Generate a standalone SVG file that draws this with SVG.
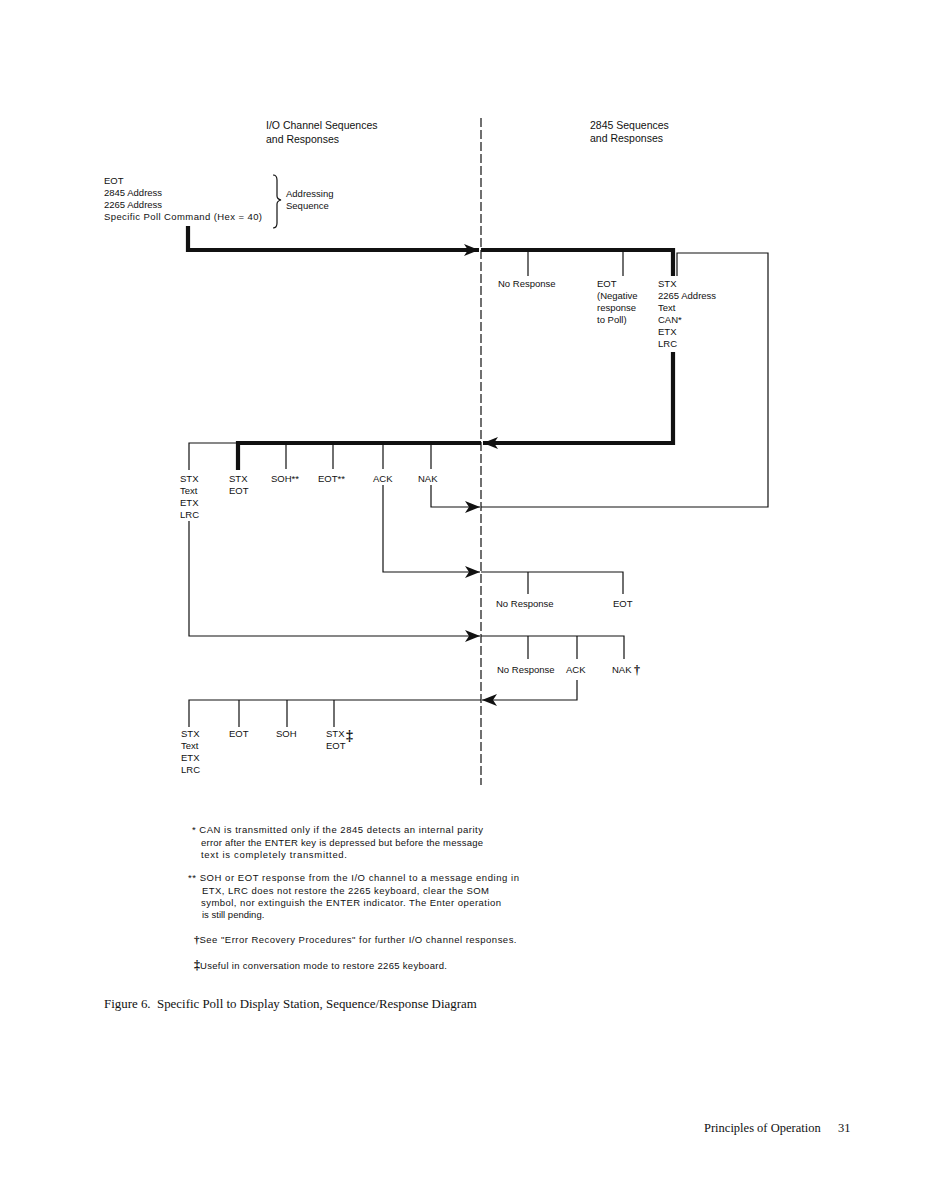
<svg xmlns="http://www.w3.org/2000/svg" width="934" height="1201" viewBox="0 0 934 1201">
<style>
text{font-family:"Liberation Sans","DejaVu Sans",sans-serif;fill:#111}
.lb{font-size:9.5px}
.hd{font-size:10.5px}
.fn{font-size:9.5px}
.sf{font-family:"Liberation Serif","DejaVu Serif",serif;font-size:12.5px}
.cap{font-size:12.9px}
.dg{font-family:"Liberation Serif","DejaVu Serif",serif;font-weight:bold}
.thin{fill:none;stroke:#111;stroke-width:1.2}
.thick{fill:none;stroke:#111;stroke-width:4.2}
.dash{fill:none;stroke:#111;stroke-width:1.2;stroke-dasharray:9 3}
</style>
<defs>
<marker id="arr" viewBox="-16 -7 17 14" refX="0" refY="0" markerWidth="17" markerHeight="14" markerUnits="userSpaceOnUse" orient="auto">
<path d="M-15,-6 L0,0 L-15,6 L-11,0 z" fill="#111"/>
</marker>
</defs>
<rect width="934" height="1201" fill="#fff"/>

<g id="headers">
<text class="hd" x="266" y="129">I/O Channel Sequences</text>
<text class="hd" x="266" y="143">and Responses</text>
<text class="hd" x="590" y="129">2845 Sequences</text>
<text class="hd" x="590" y="142">and Responses</text>
</g>

<g id="node-addressing">
<text class="lb" x="104" y="184">EOT</text>
<text class="lb" x="104" y="196">2845 Address</text>
<text class="lb" x="104" y="208">2265 Address</text>
<text class="lb" x="104" y="220" textLength="158" lengthAdjust="spacing">Specific Poll Command (Hex = 40)</text>
<path class="thin" d="M273,175 Q277,175 277,180 V196 Q277,199 281,200 Q277,201 277,204 V223 Q277,228 273,228"/>
<text class="lb" x="286" y="197">Addressing</text>
<text class="lb" x="286" y="209">Sequence</text>
</g>

<g id="node-noresp1"><text class="lb" x="498" y="287">No Response</text></g>
<g id="node-eot-neg">
<text class="lb" x="597" y="287">EOT</text>
<text class="lb" x="597" y="299">(Negative</text>
<text class="lb" x="597" y="311">response</text>
<text class="lb" x="597" y="323">to Poll)</text>
</g>
<g id="node-stx-msg">
<text class="lb" x="658" y="287">STX</text>
<text class="lb" x="658" y="299">2265 Address</text>
<text class="lb" x="658" y="311">Text</text>
<text class="lb" x="658" y="323">CAN*</text>
<text class="lb" x="658" y="335">ETX</text>
<text class="lb" x="658" y="347">LRC</text>
</g>

<g id="node-row2">
<text class="lb" x="180" y="482">STX</text>
<text class="lb" x="180" y="494">Text</text>
<text class="lb" x="180" y="506">ETX</text>
<text class="lb" x="180" y="518">LRC</text>
<text class="lb" x="229" y="482">STX</text>
<text class="lb" x="229" y="494">EOT</text>
<text class="lb" x="271" y="482">SOH**</text>
<text class="lb" x="318" y="482">EOT**</text>
<text class="lb" x="373" y="482">ACK</text>
<text class="lb" x="418" y="482">NAK</text>
</g>

<g id="node-row3">
<text class="lb" x="496" y="607">No Response</text>
<text class="lb" x="613" y="607">EOT</text>
</g>

<g id="node-row4">
<text class="lb" x="497" y="673">No Response</text>
<text class="lb" x="566" y="673">ACK</text>
<text class="lb" x="612" y="673">NAK</text>
<text class="dg" x="634" y="674" font-size="12">†</text>
</g>

<g id="node-row5">
<text class="lb" x="181" y="737">STX</text>
<text class="lb" x="181" y="749">Text</text>
<text class="lb" x="181" y="761">ETX</text>
<text class="lb" x="181" y="773">LRC</text>
<text class="lb" x="229" y="737">EOT</text>
<text class="lb" x="276" y="737">SOH</text>
<text class="lb" x="326" y="737">STX</text>
<text class="lb" x="326" y="749">EOT</text>
<text class="dg" x="346" y="740" font-size="14">‡</text>
</g>

<g id="connectors">
<path class="dash" d="M481,118 V785"/>
<path class="thick" d="M188,226 V250 H479" marker-end="url(#arr)"/>
<path class="thick" d="M481,250 H673 V276"/>
<path class="thin" d="M528,250 V276 M623,250 V276"/>
<path class="thin" d="M677,276 V253 H768 V507 H481"/>
<path class="thick" d="M673,352 V443 H483" marker-end="url(#arr)"/>
<path class="thick" d="M481,443 H238 V470"/>
<path class="thin" d="M238,443 H189 V470"/>
<path class="thin" d="M286,443 V469 M333,443 V469 M383,443 V469 M431,443 V469"/>
<path class="thin" d="M431,485 V507 H480" marker-end="url(#arr)"/>
<path class="thin" d="M383,485 V572 H480" marker-end="url(#arr)"/>
<path class="thin" d="M481,572 H623 V594 M528,572 V594"/>
<path class="thin" d="M189,521 V636 H480" marker-end="url(#arr)"/>
<path class="thin" d="M481,636 H624 V659 M528,636 V659 M577,636 V659"/>
<path class="thin" d="M577,680 V700 H482" marker-end="url(#arr)"/>
<path class="thin" d="M481,700 H189 V727 M239,700 V727 M287,700 V727 M334,700 V727"/>
</g>

<g id="footnotes">
<text class="fn" x="192" y="833" textLength="291" lengthAdjust="spacing">* CAN is transmitted only if the 2845 detects an internal parity</text>
<text class="fn" x="201" y="846" textLength="282" lengthAdjust="spacing">error after the ENTER key is depressed but before the message</text>
<text class="fn" x="201" y="858" textLength="146" lengthAdjust="spacing">text is completely transmitted.</text>
<text class="fn" x="188" y="881" textLength="331" lengthAdjust="spacing">** SOH or EOT response from the I/O channel to a message ending in</text>
<text class="fn" x="202" y="894" textLength="287" lengthAdjust="spacing">ETX, LRC does not restore the 2265 keyboard, clear the SOM</text>
<text class="fn" x="201" y="906" textLength="300" lengthAdjust="spacing">symbol, nor extinguish the ENTER indicator. The Enter operation</text>
<text class="fn" x="202" y="918">is still pending.</text>
<text class="fn" x="194" y="943"><tspan class="dg" font-size="11">†</tspan><tspan textLength="317" lengthAdjust="spacing">See "Error Recovery Procedures" for further I/O channel responses.</tspan></text>
<text class="fn" x="194" y="969"><tspan class="dg" font-size="12">‡</tspan><tspan textLength="247" lengthAdjust="spacing">Useful in conversation mode to restore 2265 keyboard.</tspan></text>
</g>

<g id="caption">
<text class="sf cap" x="104" y="1008" xml:space="preserve">Figure 6.  Specific Poll to Display Station, Sequence/Response Diagram</text>
<text class="sf" x="704" y="1132">Principles of Operation</text>
<text class="sf" x="838" y="1132">31</text>
</g>
</svg>
